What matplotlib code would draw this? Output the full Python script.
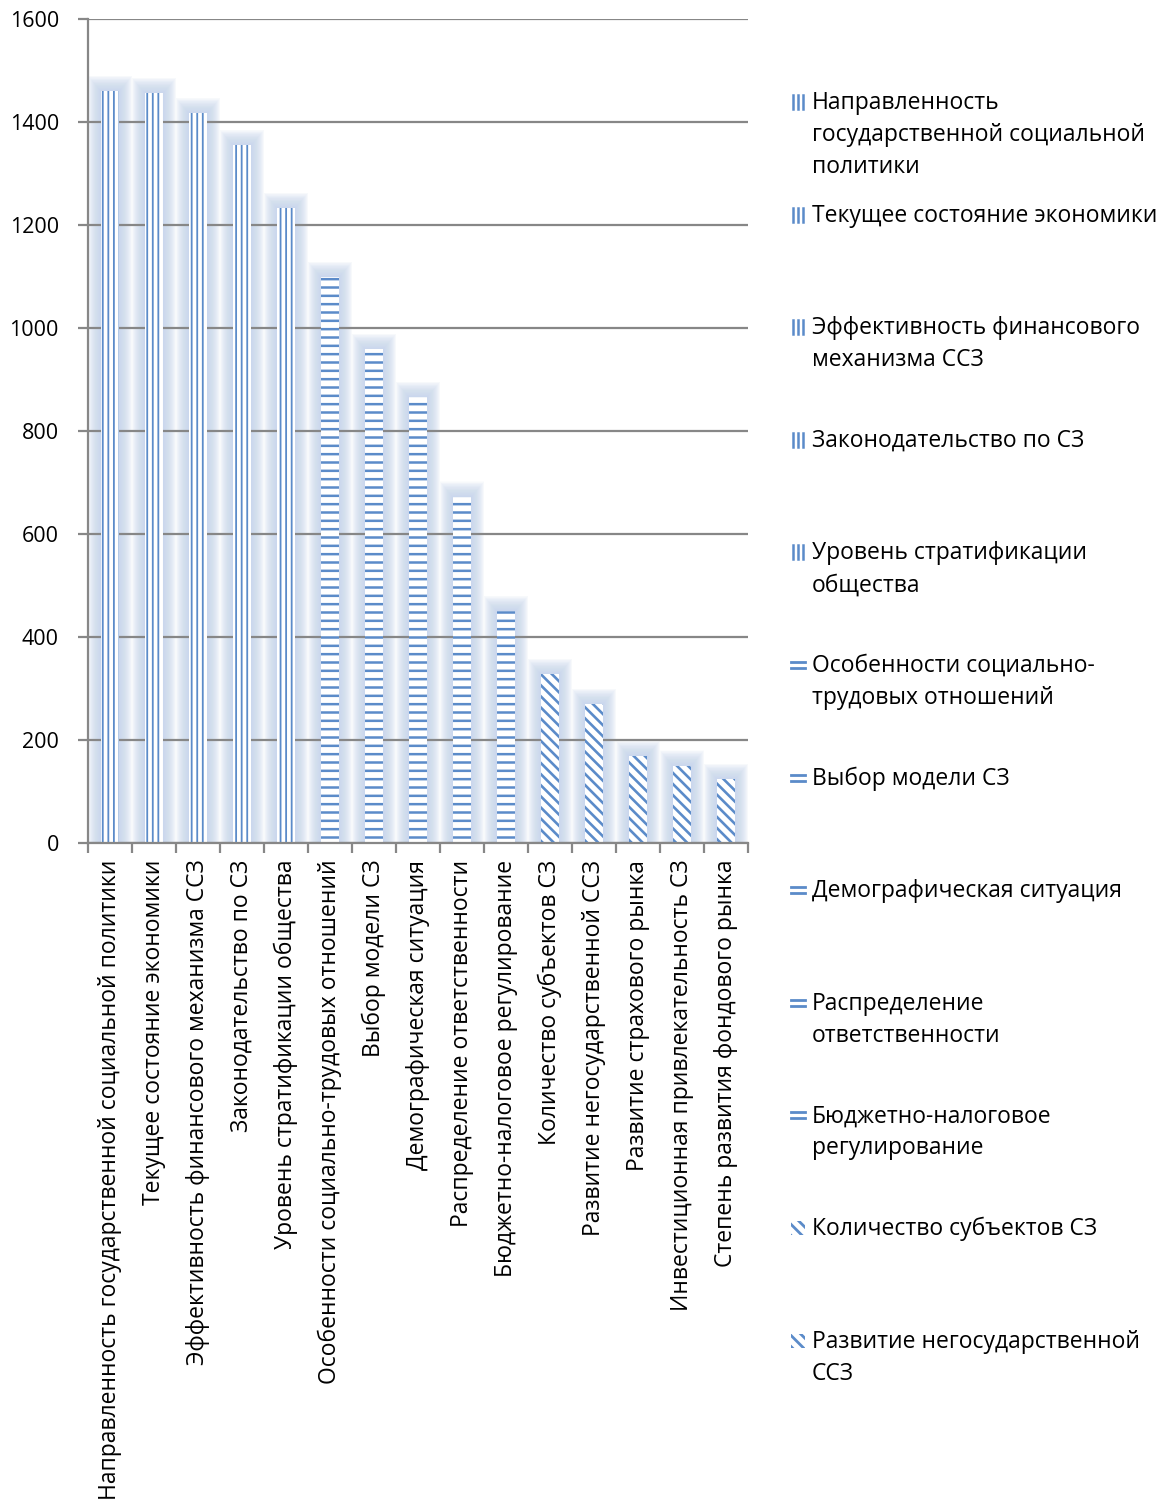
import matplotlib
matplotlib.use("Agg")
import matplotlib.pyplot as plt
from matplotlib.patches import Rectangle
from matplotlib.lines import Line2D
import numpy as np

categories = [
    "Направленность государственной социальной политики",
    "Текущее состояние экономики",
    "Эффективность финансового механизма ССЗ",
    "Законодательство по СЗ",
    "Уровень стратификации общества",
    "Особенности социально-трудовых отношений",
    "Выбор модели СЗ",
    "Демографическая ситуация",
    "Распределение ответственности",
    "Бюджетно-налоговое регулирование",
    "Количество субъектов СЗ",
    "Развитие негосударственной ССЗ",
    "Развитие страхового рынка",
    "Инвестиционная привлекательность СЗ",
    "Степень развития фондового рынка",
]
values = [1460, 1456, 1417, 1355, 1233, 1099, 959, 866, 672, 450, 328, 270, 169, 150, 124]
groups = [0, 0, 0, 0, 0, 1, 1, 1, 1, 1, 2, 2, 2, 2, 2]
legend_labels = [
    "Направленность\nгосударственной социальной\nполитики",
    "Текущее состояние экономики",
    "Эффективность финансового\nмеханизма ССЗ",
    "Законодательство по СЗ",
    "Уровень стратификации\nобщества",
    "Особенности социально-\nтрудовых отношений",
    "Выбор модели СЗ",
    "Демографическая ситуация",
    "Распределение\nответственности",
    "Бюджетно-налоговое\nрегулирование",
    "Количество субъектов СЗ",
    "Развитие негосударственной\nССЗ",
]
yticks = [0, 200, 400, 600, 800, 1000, 1200, 1400, 1600]

hatches = ["|||", "--", "\\\\\\"]
hatch_lws = [1.3, 1.8, 1.9]
hatch_color = "#5b8bc9"
glow_color = "#c6d7ed"
grid_color = "#878787"

plt.rcParams["font.family"] = ["Open Sans", "DejaVu Sans"]

W, H = 1168, 1499
fig = plt.figure(figsize=(W / 100, H / 100), dpi=100)
ax = fig.add_axes([88 / W, 1 - 843 / H, (748 - 88) / W, (843 - 19) / H])

x = np.arange(len(categories))
vals = np.array(values, dtype=float)
bw = 0.43

# soft glow behind bars (drawn over the grid, like the original)
n = 26
for k in range(n):
    f = (k + 1) / n
    ax.bar(x, vals + 30 * f, width=bw + 0.58 * f, color=glow_color,
           alpha=0.065, lw=0, zorder=2.5)

def hatched(patch, lw):
    try:
        patch.set_hatch_linewidth(lw)
    except AttributeError:
        pass

for xi, v, g in zip(x, vals, groups):
    with plt.rc_context({"hatch.linewidth": hatch_lws[g]}):
        bars = ax.bar(xi, v, width=bw, facecolor="white", edgecolor=hatch_color,
                      hatch=hatches[g], lw=0, zorder=3)
    for b in bars:
        hatched(b, hatch_lws[g])

ax.set_xlim(-0.5, len(categories) - 0.5)
ax.set_ylim(0, 1600)
ax.set_yticks(yticks)
ax.set_yticklabels([str(t) for t in yticks], fontsize=15.5)
ax.yaxis.grid(True, color=grid_color, lw=1.6, zorder=2)
ax.set_axisbelow(False)
ax.tick_params(axis="y", length=7, color=grid_color, width=1.6, pad=14)

ax.set_xticks(x)
ax.set_xticklabels(categories, rotation=90, fontsize=16.5, va="top", ha="center")
ax.tick_params(axis="x", which="major", length=0, pad=12)
ax.set_xticks(np.arange(-0.5, len(categories)), minor=True)
ax.tick_params(axis="x", which="minor", length=7, color=grid_color, width=1.6)

for s in ["top", "right"]:
    ax.spines[s].set_visible(False)
for s in ["left", "bottom"]:
    ax.spines[s].set_color(grid_color)
    ax.spines[s].set_linewidth(1.6)
    ax.spines[s].set_zorder(4)

# manual legend
y0 = 102
step = 112.6

def fx(px):
    return px / W

def fy(py):
    return 1 - py / H

for i, lab in enumerate(legend_labels):
    yc = y0 + i * step
    g = groups[i]
    if g == 0:
        for xx in (792.5, 797.5, 802.5):
            fig.add_artist(Line2D([fx(xx), fx(xx)], [fy(yc - 7), fy(yc + 7)],
                                  transform=fig.transFigure, color=hatch_color, lw=1.8))
    elif g == 1:
        for yy in (yc - 3, yc + 3):
            fig.add_artist(Line2D([fx(791), fx(805)], [fy(yy), fy(yy)],
                                  transform=fig.transFigure, color=hatch_color, lw=2.0))
    else:
        with plt.rc_context({"hatch.linewidth": 2.0}):
            r = Rectangle((fx(791), fy(yc + 7)), 14 / W, 14 / H, transform=fig.transFigure,
                          facecolor="white", edgecolor=hatch_color, hatch="\\\\\\", lw=0)
        hatched(r, 2.0)
        fig.add_artist(r)
    fig.text(fx(812), fy(yc - 11), lab, fontsize=16.5, va="top", ha="left",
             linespacing=1.45, color="black")

fig.savefig("out.png", dpi=100, facecolor="white")
